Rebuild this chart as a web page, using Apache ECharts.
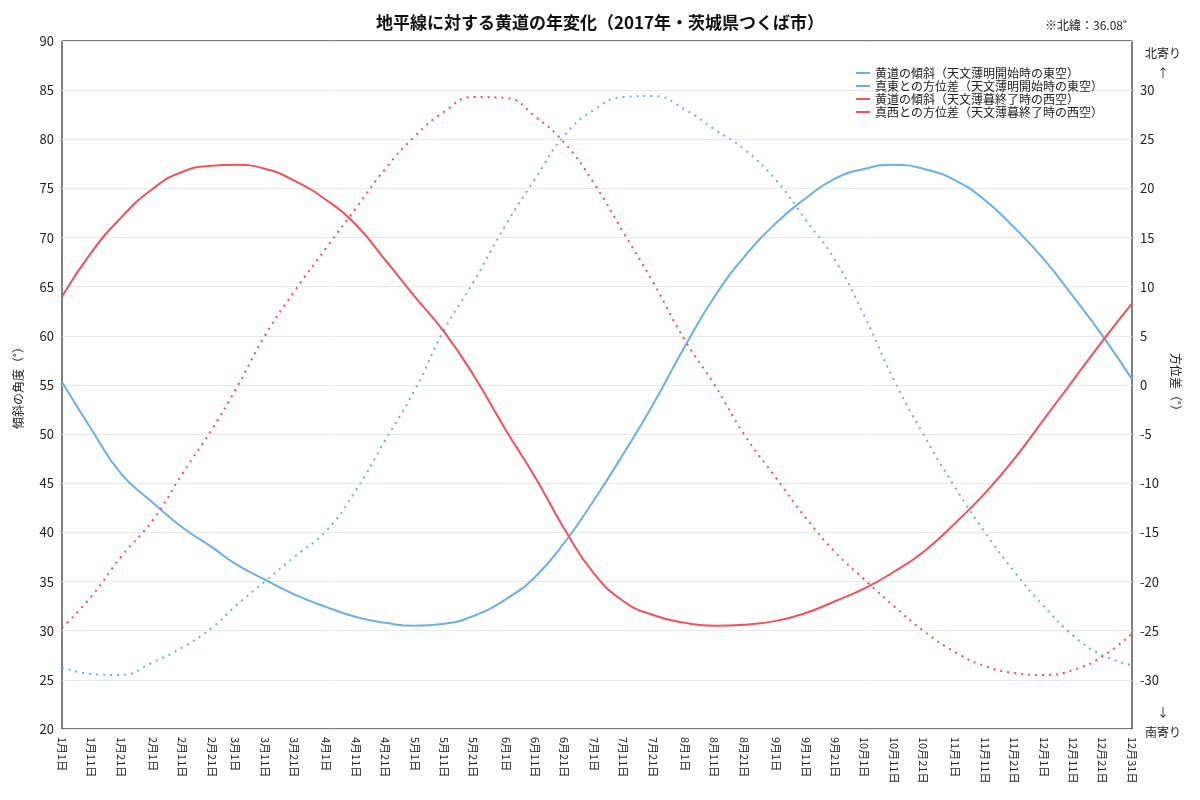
<!DOCTYPE html>
<html><head><meta charset="utf-8">
<script src="https://cdn.jsdelivr.net/npm/echarts@6/dist/echarts.min.js"></script>
<style>html,body{margin:0;padding:0;background:#fff}#c{width:1200px;height:800px}</style>
</head><body><div id="c"></div>
<script>
const tickDays = [0,10,20,31,41,51,59,69,79,90,100,110,120,130,140,151,161,171,181,191,201,212,222,232,243,253,263,273,283,293,304,314,324,334,344,354,364];
const tickLabels = ['1月1日','1月11日','1月21日','2月1日','2月11日','2月21日','3月1日','3月11日','3月21日','4月1日','4月11日','4月21日','5月1日','5月11日','5月21日','6月1日','6月11日','6月21日','7月1日','7月11日','7月21日','8月1日','8月11日','8月21日','9月1日','9月11日','9月21日','10月1日','10月11日','10月21日','11月1日','11月11日','11月21日','12月1日','12月11日','12月21日','12月31日'];
const dawnTilt = [55.3,50.5,46,43,40.5,38.5,36.8,35.2,33.7,32.4,31.4,30.8,30.5,30.7,31.5,33.2,35.5,39,43.3,48,53,59,64,68,71.5,74,76,77,77.4,77,75.8,73.8,71,67.8,64,60,55.6];
const dawnAz = [-28.7,-29.4,-29.5,-28.2,-26.7,-24.7,-22.5,-20,-17.5,-14.8,-10.7,-5.6,-0.5,5.6,10.5,16.3,21,25.4,28,29.3,29.4,28,26,24,20.8,16.8,12.7,7,0.5,-5,-10.5,-15,-19,-22.5,-25.5,-27.5,-28.5];
const duskTilt = [64,68.5,72,75,76.7,77.3,77.4,77,75.8,73.8,71.3,67.7,64,60.4,56,50.4,45.6,40.3,35.8,33,31.6,30.8,30.5,30.6,31,31.8,33,34.3,36,38,41,44,47.5,51.5,55.5,59.5,63.3];
const duskAz = [-24.7,-21.5,-17.5,-13.7,-9,-4.5,-0.5,5,9.5,14,18,22,25.3,27.8,29.3,29.2,27.3,24.6,20.5,15.5,10.5,4.5,0,-5,-9.5,-13.5,-17,-19.8,-22.5,-25,-27.2,-28.6,-29.3,-29.5,-29,-27.6,-25.3];
const names = ['黄道の傾斜（天文薄明開始時の東空）','真東との方位差（天文薄明開始時の東空）','黄道の傾斜（天文薄暮終了時の西空）','真西との方位差（天文薄暮終了時の西空）'];
const blue = '#6cb0e0', red = '#f0525c';
const z = a => tickDays.map((d,i)=>[d,a[i]]);
const ff = '"Noto Sans CJK JP", sans-serif';
const chart = echarts.init(document.getElementById('c'));
chart.setOption({
  textStyle:{fontFamily:ff},
  animation:false,
  title:[{text:'地平線に対する黄道の年変化（2017年・茨城県つくば市）',left:'center',top:9,textStyle:{fontSize:17,fontWeight:'bold',color:'#111',fontFamily:ff}},
         {text:'※北緯：36.08˚',right:68,top:14,textStyle:{fontSize:12,fontWeight:'normal',color:'#222',fontFamily:ff}},
         {text:'北寄り\n↑',left:1158,top:38,textAlign:'center',textStyle:{fontSize:12,fontWeight:'normal',color:'#222',lineHeight:20,fontFamily:ff}},
         {text:'↓\n南寄り',left:1158,top:697,textAlign:'center',textStyle:{fontSize:12,fontWeight:'normal',color:'#222',lineHeight:20,fontFamily:ff}}],
  legend:{orient:'vertical',right:92,top:62,itemGap:1,itemWidth:14,itemHeight:2,textStyle:{fontSize:12,color:'#222'},data:names,icon:'rect'},
  grid:{left:62,right:68,top:41,bottom:71,show:true,borderColor:'#000',borderWidth:1},
  xAxis:{type:'value',min:0,max:364,axisLine:{show:false},axisTick:{show:false},splitLine:{show:false},
    axisLabel:{customValues:tickDays,rotate:-90,fontSize:11,color:'#222',margin:8,formatter:v=>tickLabels[tickDays.indexOf(v)]}},
  yAxis:[{type:'value',min:20,max:90,interval:5,name:'傾斜の角度（˚）',nameLocation:'middle',nameGap:38,nameTextStyle:{fontSize:12,color:'#222'},
    axisLine:{show:false},axisTick:{show:false},axisLabel:{fontSize:13,color:'#222'},splitLine:{lineStyle:{color:'#e8e8e8'}}},
   {type:'value',min:-35,max:35,interval:5,name:'方位差（˚）',nameLocation:'middle',nameGap:36,nameRotate:-90,nameTextStyle:{fontSize:12,color:'#222'},
    axisLine:{show:false},axisTick:{show:false},splitLine:{show:false},
    axisLabel:{fontSize:13,color:'#222',formatter:v=>(v<-30||v>30)?'':v}}],
  series:[
    {name:names[0],type:'line',smooth:true,symbol:'none',data:z(dawnTilt),itemStyle:{color:blue},lineStyle:{color:blue,width:2}},
    {name:names[1],type:'line',smooth:true,symbol:'none',yAxisIndex:1,data:z(dawnAz),itemStyle:{color:blue},lineStyle:{color:blue,width:2,type:[2,5]}},
    {name:names[2],type:'line',smooth:true,symbol:'none',data:z(duskTilt),itemStyle:{color:red},lineStyle:{color:red,width:2}},
    {name:names[3],type:'line',smooth:true,symbol:'none',yAxisIndex:1,data:z(duskAz),itemStyle:{color:red},lineStyle:{color:red,width:2,type:[2,5]}}
  ]
});
</script></body></html>
